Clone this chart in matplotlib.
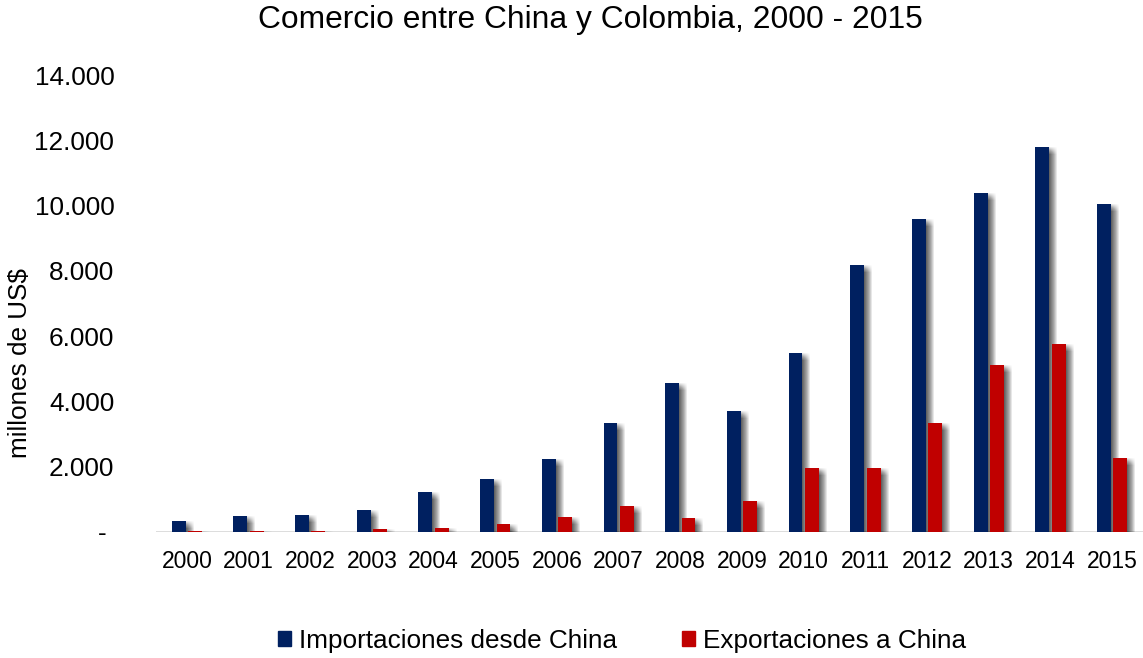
import numpy as np
import matplotlib.pyplot as plt
import matplotlib.patheffects as pe
from matplotlib.patches import Patch
from matplotlib.ticker import FuncFormatter

plt.rcParams['font.family'] = ['Liberation Sans', 'DejaVu Sans']

years = [str(y) for y in range(2000, 2016)]
importaciones = [346, 481, 521, 674, 1235, 1614, 2227, 3330, 4555, 3716,
                 5475, 8180, 9580, 10377, 11805, 10049]
exportaciones = [30, 20, 20, 83, 132, 236, 450, 787, 429, 950,
                 1951, 1970, 3330, 5107, 5750, 2258]

azul = '#002060'
rojo = '#c00000'

fig = plt.figure(figsize=(11.43, 6.58), dpi=100)
ax = fig.add_axes([0.1365, 0.1915, 0.8635, 0.6945])

# soft drop shadow: many faint offset copies under each bar
sombra = []
for dx in range(0, 9):
    for dy in range(0, 8):
        sombra.append(pe.SimplePatchShadow(offset=(dx * 0.72, -dy * 0.72),
                                           shadow_rgbFace='black', alpha=0.011))
sombra.append(pe.Normal())

x = np.arange(len(years))
w = 0.225
b1 = ax.bar(x - 0.133, importaciones, w, color=azul, zorder=3)
b2 = ax.bar(x + 0.133, exportaciones, w, color=rojo, zorder=3)
for bar in list(b1) + list(b2):
    bar.set_path_effects(sombra)

ax.axhline(0, color='#d9d9d9', lw=2, zorder=2)

ax.set_xlim(-0.5, len(years) - 0.5)
ax.set_ylim(0, 14000)
ax.set_yticks(range(0, 14001, 2000))
ax.yaxis.set_major_formatter(FuncFormatter(
    lambda v, p: '- ' if v == 0 else f'{int(v):,}'.replace(',', '.')))
ax.set_xticks(x)
ax.set_xticklabels(years)
ax.tick_params(axis='y', length=0, pad=30, labelsize=18.8)
ax.tick_params(axis='x', length=0, pad=13, labelsize=16.5)
for s in ax.spines.values():
    s.set_visible(False)

fig.text(20 / 1143, 1 - 363 / 658, 'millones de US$', rotation=90,
         ha='center', va='center', fontsize=18.8)
fig.text(590 / 1143, 1 - 20 / 658, 'Comercio entre China y Colombia, 2000 - 2015',
         ha='center', va='center', fontsize=22.9)

handles = [Patch(color=azul, label='Importaciones desde China'),
           Patch(color=rojo, label='Exportaciones a China')]
fig.legend(handles=handles, loc='center', bbox_to_anchor=(622 / 1143, 1 - 641 / 658),
           ncol=2, frameon=False, fontsize=18.8, handlelength=0.5, handleheight=0.5,
           handletextpad=0.3, columnspacing=2.5)

fig.savefig('out.png', dpi=100)
